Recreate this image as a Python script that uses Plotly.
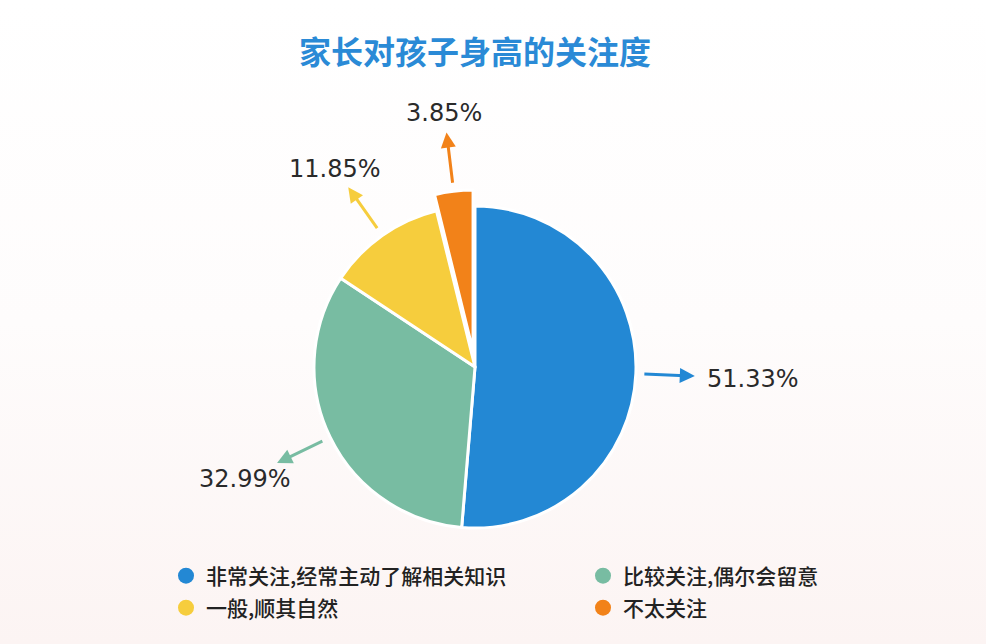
import math
import plotly.graph_objects as go

W, H = 986, 644

labels = ["非常关注，经常主动了解相关知识", "比较关注，偶尔会留意", "一般，顺其自然", "不太关注"]
legend_names = ["非常关注,经常主动了解相关知识", "比较关注,偶尔会留意", "一般,顺其自然", "不太关注"]
legend_rows = ["legend", "legend", "legend2", "legend2"]
values = [51.33, 32.99, 11.85, 3.85]
pulls = [0, 0, 0, 0.1]
colors = ["#2388d4", "#78bca2", "#f6cd3d", "#f28219"]

# pie geometry (pixels)
cx, cy, R = 475, 367, 161
half = R * (1 + max(pulls))

fig = go.Figure()

# soft background gradient
fig.add_trace(go.Scatter(
    x=[0, W, W, 0, 0], y=[0, 0, H, H, 0], mode="lines", fill="toself",
    line=dict(width=0), hoverinfo="skip", showlegend=False,
    fillgradient=dict(type="vertical",
                      colorscale=[[0, "#fcf4f3"], [0.5, "#fefcfc"], [1, "#ffffff"]]),
))

fig.add_trace(go.Pie(
    labels=labels, values=values, sort=False, direction="clockwise", rotation=0,
    pull=pulls, marker=dict(colors=colors, line=dict(color="white", width=3)),
    textinfo="none", hoverinfo="label+percent", showlegend=False,
    domain=dict(x=[(cx - half) / W, (cx + half) / W],
                y=[1 - (cy + half) / H, 1 - (cy - half) / H]),
))

# legend entries with round markers, two per row
for name, c, lg in zip(legend_names, colors, legend_rows):
    fig.add_trace(go.Scatter(x=[None], y=[None], mode="markers", name=name, legend=lg,
                             marker=dict(color=c, size=17, symbol="circle")))

# arrows + percentage labels, placed from the slice angles
total = sum(values)
cum = 0
hw, hh = 50, 12
for v, p, c in zip(values, pulls, colors):
    theta = 2 * math.pi * (cum + v / 2) / total
    cum += v
    dx, dy = math.sin(theta), -math.cos(theta)
    r_tail = R + 7 + p * R
    r_head = r_tail + 52
    tx, ty = cx + dx * r_tail, cy + dy * r_tail
    hx, hy = cx + dx * r_head, cy + dy * r_head
    fig.add_annotation(x=hx, y=hy, ax=tx, ay=ty, xref="x", yref="y", axref="x", ayref="y",
                       text="", showarrow=True, arrowhead=2, arrowsize=1, arrowwidth=3,
                       arrowcolor=c, standoff=0, startstandoff=0)
    d = 8 + min(hw / max(abs(dx), 1e-6), hh / max(abs(dy), 1e-6))
    fig.add_annotation(x=hx + dx * d, y=hy + dy * d, xref="x", yref="y",
                       text=f"{v:.2f}%", showarrow=False,
                       font=dict(family="DejaVu Sans", size=24, color="#2a2a2a"))

legend_style = dict(orientation="h", x=166 / W, xanchor="left", yanchor="middle",
                    entrywidth=372, entrywidthmode="pixels",
                    font=dict(family="Noto Sans CJK SC", size=21, color="#222222", weight=500),
                    bgcolor="rgba(0,0,0,0)")

fig.update_layout(
    width=W, height=H,
    margin=dict(l=0, r=0, t=0, b=0, autoexpand=False),
    paper_bgcolor="white", plot_bgcolor="rgba(0,0,0,0)",
    xaxis=dict(range=[0, W], visible=False, fixedrange=True),
    yaxis=dict(range=[H, 0], visible=False, fixedrange=True),
    title=dict(text="<b>家长对孩子身高的关注度</b>", x=cx / W, xanchor="center",
               y=1 - 53 / H, yanchor="middle",
               font=dict(family="Noto Sans CJK SC", size=32, color="#2a8ad6")),
    legend=dict(legend_style, y=1 - 576 / H),
    legend2=dict(legend_style, y=1 - 608 / H),
    font=dict(family="Noto Sans CJK SC"),
)

fig.write_html("out.html", config={"displayModeBar": False},
               post_script="document.body.style.margin='0';document.body.style.overflow='hidden';")
